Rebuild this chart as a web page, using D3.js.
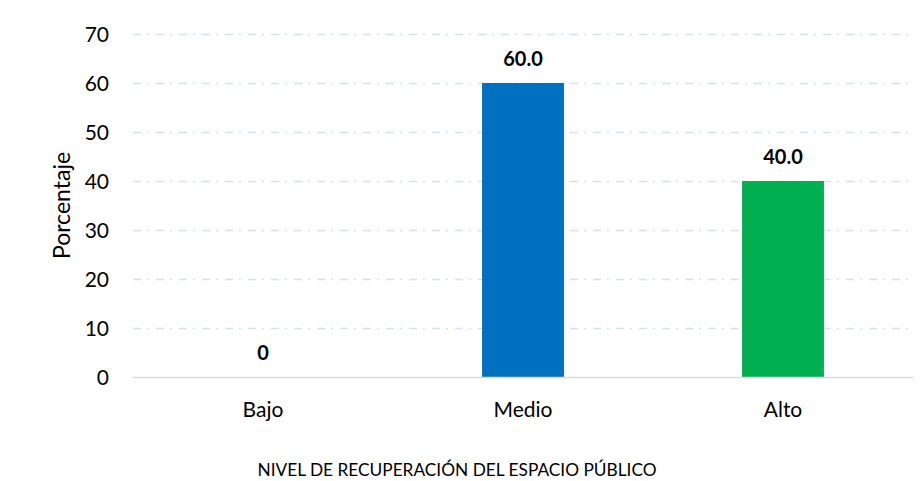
<!DOCTYPE html>
<html><head><meta charset="utf-8">
<script src="https://cdn.jsdelivr.net/npm/d3@7"></script>
<style>body{margin:0;background:#fff}svg{display:block}text{font-family:Lato,"Open Sans",sans-serif;fill:#000}</style>
</head><body><svg id="c" width="922" height="481"></svg>
<script>
const categories = ["Bajo", "Medio", "Alto"];
const values = [0, 60.0, 40.0];
const labels = ["0", "60.0", "40.0"];
const colors = ["#0070C0", "#0070C0", "#00B050"];
const yTicks = [0, 10, 20, 30, 40, 50, 60, 70];

const svg = d3.select("#c");
const m = {l: 133, r: 9, t: 34, b: 104};
const W = 922, H = 481;
const x = d3.scaleBand().domain(categories).range([m.l, W - m.r]).paddingInner(0.685).paddingOuter(0.3425);
const y = d3.scaleLinear().domain([0, 70]).range([H - m.b, m.t]);

// gridlines
svg.append("g").selectAll("line").data(yTicks.filter(d => d > 0)).join("line")
  .attr("x1", m.l).attr("x2", W - m.r)
  .attr("y1", d => Math.round(y(d)) + 0.5).attr("y2", d => Math.round(y(d)) + 0.5)
  .attr("stroke", "#d5e0f2").attr("stroke-width", 1.3)
  .attr("stroke-dasharray", "8,6,2,7");

// bars
svg.append("g").selectAll("rect").data(categories).join("rect")
  .attr("x", d => x(d)).attr("width", x.bandwidth())
  .attr("y", (d, i) => y(values[i])).attr("height", (d, i) => y(0) - y(values[i]))
  .attr("fill", (d, i) => colors[i]);

// baseline
svg.append("line").attr("x1", m.l).attr("x2", W - m.r)
  .attr("y1", y(0) + 0.5).attr("y2", y(0) + 0.5)
  .attr("stroke", "#d9d9d9").attr("stroke-width", 1.5);

// y axis tick labels
const ya = svg.append("g").attr("transform", `translate(${m.l},0)`)
  .call(d3.axisLeft(y).tickValues(yTicks).tickSize(0).tickPadding(24));
ya.select(".domain").remove();
ya.attr("font-family", null).attr("font-size", null);
ya.selectAll("text").style("font-size", "21px").attr("fill", "#000").attr("dy", "0.35em");

// x axis labels
const xa = svg.append("g").attr("transform", `translate(0,${y(0)})`)
  .call(d3.axisBottom(x).tickSize(0).tickPadding(0));
xa.select(".domain").remove();
xa.attr("font-family", null).attr("font-size", null);
xa.selectAll("text").style("font-size", "21px").attr("fill", "#000").attr("y", 40).attr("dy", null);

// value labels
svg.append("g").selectAll("text").data(categories).join("text")
  .attr("x", d => x(d) + x.bandwidth() / 2)
  .attr("y", (d, i) => y(values[i]) - 17)
  .attr("text-anchor", "middle")
  .style("font-size", "20px").style("font-weight", "bold")
  .text((d, i) => labels[i]);

// axis titles
svg.append("text").attr("transform", `translate(70,${(y(0) + y(70)) / 2}) rotate(-90)`)
  .attr("text-anchor", "middle").style("font-size", "23px").text("Porcentaje");
svg.append("text").attr("x", 457).attr("y", 476)
  .attr("text-anchor", "middle").style("font-size", "17.3px").text("NIVEL DE RECUPERACIÓN DEL ESPACIO PÚBLICO");
</script></body></html>
